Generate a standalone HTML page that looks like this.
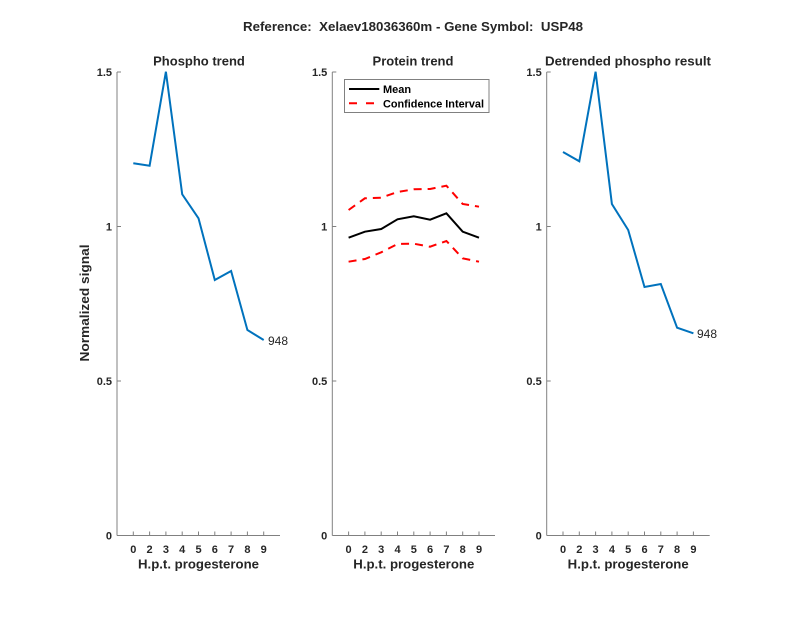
<!DOCTYPE html>
<html>
<head>
<meta charset="utf-8">
<style>
  html, body { margin: 0; padding: 0; background: #ffffff; }
  svg { display: block; }
  text { font-family: "Liberation Sans", Arial, sans-serif; fill: #262626; }
  .b { font-weight: bold; }
  .tk { font-size: 11px; font-weight: bold; }
  .ttl { font-size: 13px; font-weight: bold; }
</style>
</head>
<body>
<svg width="800" height="618" viewBox="0 0 800 618" xmlns="http://www.w3.org/2000/svg">
  <rect x="0" y="0" width="800" height="618" fill="#ffffff"/>

  <!-- Main title -->
  <text x="413" y="31" text-anchor="middle" class="ttl" textLength="340" lengthAdjust="spacingAndGlyphs">Reference:&#160; Xelaev18036360m - Gene Symbol:&#160; USP48</text>

  <!-- ================= Panel 1 ================= -->
  <g>
    <line x1="117" y1="72" x2="117" y2="535.5" stroke="#808080" stroke-width="1"/>
    <line x1="117" y1="535.5" x2="280" y2="535.5" stroke="#808080" stroke-width="1"/>
    <g stroke="#808080" stroke-width="1">
      <line x1="117" y1="72" x2="121" y2="72"/>
      <line x1="117" y1="226.5" x2="121" y2="226.5"/>
      <line x1="117" y1="381" x2="121" y2="381"/>
      <line x1="133.3" y1="535.5" x2="133.3" y2="531.5"/>
      <line x1="149.6" y1="535.5" x2="149.6" y2="531.5"/>
      <line x1="165.9" y1="535.5" x2="165.9" y2="531.5"/>
      <line x1="182.2" y1="535.5" x2="182.2" y2="531.5"/>
      <line x1="198.5" y1="535.5" x2="198.5" y2="531.5"/>
      <line x1="214.8" y1="535.5" x2="214.8" y2="531.5"/>
      <line x1="231.1" y1="535.5" x2="231.1" y2="531.5"/>
      <line x1="247.4" y1="535.5" x2="247.4" y2="531.5"/>
      <line x1="263.7" y1="535.5" x2="263.7" y2="531.5"/>
    </g>
    <g class="tk" text-anchor="end">
      <text x="112" y="76">1.5</text>
      <text x="112" y="230.5">1</text>
      <text x="112" y="385">0.5</text>
      <text x="112" y="539.5">0</text>
    </g>
    <g class="tk" text-anchor="middle">
      <text x="133.3" y="553">0</text>
      <text x="149.6" y="553">2</text>
      <text x="165.9" y="553">3</text>
      <text x="182.2" y="553">4</text>
      <text x="198.5" y="553">5</text>
      <text x="214.8" y="553">6</text>
      <text x="231.1" y="553">7</text>
      <text x="247.4" y="553">8</text>
      <text x="263.7" y="553">9</text>
    </g>
    <text x="198.5" y="568.5" text-anchor="middle" class="ttl" textLength="121" lengthAdjust="spacingAndGlyphs">H.p.t. progesterone</text>
    <text x="199" y="65.5" text-anchor="middle" class="ttl">Phospho trend</text>
    <text transform="translate(89,303) rotate(-90)" text-anchor="middle" class="ttl" textLength="117" lengthAdjust="spacingAndGlyphs">Normalized signal</text>
    <polyline fill="none" stroke="#0072BD" stroke-width="2" stroke-linejoin="miter"
      points="133.3,163.3 149.6,165.7 165.9,71.7 182.2,194.3 198.5,218.3 214.8,280 231.1,271 247.4,330 263.7,340"/>
    <text x="268" y="345" style="font-size:12px;">948</text>
  </g>

  <!-- ================= Panel 2 ================= -->
  <g>
    <line x1="332.3" y1="72" x2="332.3" y2="535.5" stroke="#808080" stroke-width="1"/>
    <line x1="332.3" y1="535.5" x2="495" y2="535.5" stroke="#808080" stroke-width="1"/>
    <g stroke="#808080" stroke-width="1">
      <line x1="332.3" y1="72" x2="336.3" y2="72"/>
      <line x1="332.3" y1="226.5" x2="336.3" y2="226.5"/>
      <line x1="332.3" y1="381" x2="336.3" y2="381"/>
      <line x1="348.6" y1="535.5" x2="348.6" y2="531.5"/>
      <line x1="364.9" y1="535.5" x2="364.9" y2="531.5"/>
      <line x1="381.2" y1="535.5" x2="381.2" y2="531.5"/>
      <line x1="397.5" y1="535.5" x2="397.5" y2="531.5"/>
      <line x1="413.8" y1="535.5" x2="413.8" y2="531.5"/>
      <line x1="430.1" y1="535.5" x2="430.1" y2="531.5"/>
      <line x1="446.4" y1="535.5" x2="446.4" y2="531.5"/>
      <line x1="462.7" y1="535.5" x2="462.7" y2="531.5"/>
      <line x1="479" y1="535.5" x2="479" y2="531.5"/>
    </g>
    <g class="tk" text-anchor="end">
      <text x="327.3" y="76">1.5</text>
      <text x="327.3" y="230.5">1</text>
      <text x="327.3" y="385">0.5</text>
      <text x="327.3" y="539.5">0</text>
    </g>
    <g class="tk" text-anchor="middle">
      <text x="348.6" y="553">0</text>
      <text x="364.9" y="553">2</text>
      <text x="381.2" y="553">3</text>
      <text x="397.5" y="553">4</text>
      <text x="413.8" y="553">5</text>
      <text x="430.1" y="553">6</text>
      <text x="446.4" y="553">7</text>
      <text x="462.7" y="553">8</text>
      <text x="479" y="553">9</text>
    </g>
    <text x="413.8" y="568.5" text-anchor="middle" class="ttl" textLength="121" lengthAdjust="spacingAndGlyphs">H.p.t. progesterone</text>
    <text x="413" y="65.5" text-anchor="middle" class="ttl">Protein trend</text>

    <polyline fill="none" stroke="#FF0000" stroke-width="2" stroke-dasharray="8 6"
      points="348.6,210 364.9,198.3 381.2,197.7 397.5,192 413.8,189.3 430.1,189 446.4,185.7 462.7,204 479,206.7"/>
    <polyline fill="none" stroke="#FF0000" stroke-width="2" stroke-dasharray="8 6"
      points="348.6,261.7 364.9,259 381.2,252.3 397.5,244 413.8,243.7 430.1,246.7 446.4,241 462.7,258.3 479,261.7"/>
    <polyline fill="none" stroke="#000000" stroke-width="2"
      points="348.6,237.7 364.9,231.7 381.2,229 397.5,219.3 413.8,216.3 430.1,219.7 446.4,213.3 462.7,231.7 479,237.7"/>

    <rect x="344.5" y="79.5" width="144.5" height="33" fill="#ffffff" stroke="#808080" stroke-width="1"/>
    <line x1="349" y1="89" x2="379.3" y2="89" stroke="#000000" stroke-width="2"/>
    <line x1="349" y1="103.3" x2="379.3" y2="103.3" stroke="#FF0000" stroke-width="2" stroke-dasharray="8 9"/>
    <text x="383" y="93" style="font-size:11px;font-weight:bold;fill:#000;">Mean</text>
    <text x="383" y="107.3" style="font-size:11px;font-weight:bold;fill:#000;" textLength="101" lengthAdjust="spacingAndGlyphs">Confidence Interval</text>
  </g>

  <!-- ================= Panel 3 ================= -->
  <g>
    <line x1="546.7" y1="72" x2="546.7" y2="535.5" stroke="#808080" stroke-width="1"/>
    <line x1="546.7" y1="535.5" x2="709.7" y2="535.5" stroke="#808080" stroke-width="1"/>
    <g stroke="#808080" stroke-width="1">
      <line x1="546.7" y1="72" x2="550.7" y2="72"/>
      <line x1="546.7" y1="226.5" x2="550.7" y2="226.5"/>
      <line x1="546.7" y1="381" x2="550.7" y2="381"/>
      <line x1="563" y1="535.5" x2="563" y2="531.5"/>
      <line x1="579.3" y1="535.5" x2="579.3" y2="531.5"/>
      <line x1="595.6" y1="535.5" x2="595.6" y2="531.5"/>
      <line x1="611.9" y1="535.5" x2="611.9" y2="531.5"/>
      <line x1="628.2" y1="535.5" x2="628.2" y2="531.5"/>
      <line x1="644.5" y1="535.5" x2="644.5" y2="531.5"/>
      <line x1="660.8" y1="535.5" x2="660.8" y2="531.5"/>
      <line x1="677.1" y1="535.5" x2="677.1" y2="531.5"/>
      <line x1="693.4" y1="535.5" x2="693.4" y2="531.5"/>
    </g>
    <g class="tk" text-anchor="end">
      <text x="541.7" y="76">1.5</text>
      <text x="541.7" y="230.5">1</text>
      <text x="541.7" y="385">0.5</text>
      <text x="541.7" y="539.5">0</text>
    </g>
    <g class="tk" text-anchor="middle">
      <text x="563" y="553">0</text>
      <text x="579.3" y="553">2</text>
      <text x="595.6" y="553">3</text>
      <text x="611.9" y="553">4</text>
      <text x="628.2" y="553">5</text>
      <text x="644.5" y="553">6</text>
      <text x="660.8" y="553">7</text>
      <text x="677.1" y="553">8</text>
      <text x="693.4" y="553">9</text>
    </g>
    <text x="628.2" y="568.5" text-anchor="middle" class="ttl" textLength="121" lengthAdjust="spacingAndGlyphs">H.p.t. progesterone</text>
    <text x="628" y="65.5" text-anchor="middle" class="ttl" textLength="166" lengthAdjust="spacingAndGlyphs">Detrended phospho result</text>
    <polyline fill="none" stroke="#0072BD" stroke-width="2"
      points="563,152 579.3,161.3 595.6,71.7 611.9,204 628.2,230 644.5,287 660.8,284 677.1,327.7 693.4,333.3"/>
    <text x="697" y="338" style="font-size:12px;">948</text>
  </g>
</svg>
</body>
</html>
